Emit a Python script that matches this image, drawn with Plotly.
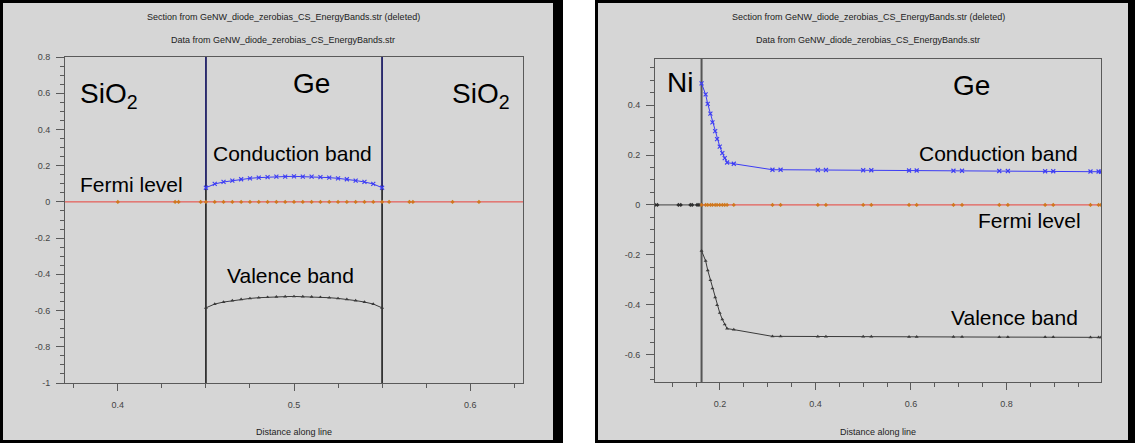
import plotly.graph_objects as go

# ---------------- data: left panel (SiO2 / Ge / SiO2 cross-section) ----------------
left_interfaces = [0.45, 0.55]
fermi_level = 0.0

ge_x = [0.450, 0.455, 0.460, 0.465, 0.470, 0.475, 0.480, 0.485, 0.490, 0.495, 0.500,
        0.505, 0.510, 0.515, 0.520, 0.525, 0.530, 0.535, 0.540, 0.545, 0.550]
ge_cb = [0.078, 0.099, 0.110, 0.118, 0.125, 0.130, 0.134, 0.137, 0.139, 0.140, 0.141,
         0.140, 0.139, 0.137, 0.134, 0.130, 0.125, 0.118, 0.110, 0.099, 0.078]
ge_vb = [-0.585, -0.564, -0.553, -0.545, -0.538, -0.533, -0.529, -0.526, -0.524, -0.523, -0.522,
         -0.523, -0.524, -0.526, -0.529, -0.533, -0.538, -0.545, -0.553, -0.564, -0.585]
# conduction band rises off-scale inside the oxide on both sides
oxide_cb = 1.2
left_fermi_x = [0.400, 0.4325, 0.4345, 0.447] + ge_x + [0.554, 0.5655, 0.5675, 0.590, 0.605]

left_x_ticks = [0.4, 0.5, 0.6]
left_x_labels = ["0.4", "0.5", "0.6"]
left_y_ticks = [0.8, 0.6, 0.4, 0.2, 0.0, -0.2, -0.4, -0.6, -0.8, -1.0]
left_y_labels = ["0.8", "0.6", "0.4", "0.2", "0", "-0.2", "-0.4", "-0.6", "-0.8", "-1"]

# ---------------- data: right panel (Ni / Ge contact) ----------------
right_interface = 0.1615
ni_x = [0.064, 0.069, 0.113, 0.118, 0.138, 0.142, 0.152, 0.156, 0.1615]
ni_e = [0.0] * len(ni_x)

ge2_x = [0.1615, 0.170, 0.1744, 0.180, 0.1843, 0.190, 0.194, 0.1996, 0.205, 0.210, 0.215,
         0.229, 0.310, 0.327, 0.405, 0.422, 0.500, 0.517, 0.596, 0.612, 0.689, 0.707,
         0.785, 0.803, 0.881, 0.898, 0.976, 0.993, 0.998]
ge2_cb = [0.487, 0.443, 0.405, 0.366, 0.331, 0.296, 0.264, 0.234, 0.208, 0.188, 0.170,
          0.165, 0.141, 0.141, 0.140, 0.140, 0.139, 0.139, 0.138, 0.138, 0.137, 0.137,
          0.136, 0.136, 0.135, 0.135, 0.134, 0.134, 0.133]
ge2_vb = [-0.184, -0.224, -0.262, -0.302, -0.335, -0.371, -0.402, -0.433, -0.459, -0.479, -0.496,
          -0.500, -0.527, -0.527, -0.528, -0.528, -0.528, -0.528, -0.529, -0.529, -0.529, -0.529,
          -0.530, -0.530, -0.530, -0.530, -0.531, -0.531, -0.531]
ge2_ef = [fermi_level] * len(ge2_x)

right_x_ticks = [0.2, 0.4, 0.6, 0.8]
right_x_labels = ["0.2", "0.4", "0.6", "0.8"]
right_y_ticks = [0.4, 0.2, 0.0, -0.2, -0.4, -0.6]
right_y_labels = ["0.4", "0.2", "0", "-0.2", "-0.4", "-0.6"]

# ---------------- styling ----------------
W, H = 1135, 443
FONT = "Arial, Liberation Sans, sans-serif"
CB_COLOR = "#3c3cf5"
CB_WALL = "#26268f"
VB_COLOR = "#3a3a3a"
EF_LINE = "#e8403a"
EF_MARK = "#d0781e"
PANEL_GREY = "#d6d6d6"
AXIS_GREY = "#5a5a5a"


def px_x(p):
    return p / W


def px_y(p):
    return 1 - p / H


fig = go.Figure()

# left panel traces
fig.add_trace(go.Scatter(
    x=left_fermi_x, y=[fermi_level] * len(left_fermi_x), mode="markers",
    marker=dict(symbol="diamond", size=3.2, color=EF_MARK),
    xaxis="x", yaxis="y", showlegend=False, hoverinfo="skip"))
for i in (0, -1):
    # vertical rise of the conduction band into the oxide
    fig.add_trace(go.Scatter(
        x=[ge_x[i], ge_x[i]], y=[ge_cb[i], oxide_cb], mode="lines",
        line=dict(color=CB_WALL, width=1.2), xaxis="x", yaxis="y", showlegend=False))
fig.add_trace(go.Scatter(
    x=ge_x, y=ge_cb, mode="lines+markers",
    line=dict(color=CB_COLOR, width=1),
    marker=dict(symbol="x-thin", size=4, line=dict(color=CB_COLOR, width=1.1)),
    xaxis="x", yaxis="y", showlegend=False))
fig.add_trace(go.Scatter(
    x=ge_x, y=ge_vb, mode="lines+markers",
    line=dict(color=VB_COLOR, width=1),
    marker=dict(symbol="triangle-up", size=3.5, color=VB_COLOR),
    xaxis="x", yaxis="y", showlegend=False))

# right panel traces
fig.add_trace(go.Scatter(
    x=ni_x, y=ni_e, mode="lines+markers",
    line=dict(color="#404040", width=1),
    marker=dict(symbol="diamond", size=3.2, color="#303030"),
    xaxis="x2", yaxis="y2", showlegend=False))
fig.add_trace(go.Scatter(
    x=ge2_x, y=ge2_ef, mode="lines+markers",
    line=dict(color=EF_LINE, width=1),
    marker=dict(symbol="diamond", size=3.2, color=EF_MARK),
    xaxis="x2", yaxis="y2", showlegend=False))
fig.add_trace(go.Scatter(
    x=ge2_x, y=ge2_cb, mode="lines+markers",
    line=dict(color=CB_COLOR, width=1),
    marker=dict(symbol="x-thin", size=4, line=dict(color=CB_COLOR, width=1.1)),
    xaxis="x2", yaxis="y2", showlegend=False))
fig.add_trace(go.Scatter(
    x=ge2_x, y=ge2_vb, mode="lines+markers",
    line=dict(color=VB_COLOR, width=1),
    marker=dict(symbol="triangle-up", size=3.5, color=VB_COLOR),
    xaxis="x2", yaxis="y2", showlegend=False))

shapes = [
    # window frames and grey panel backgrounds
    dict(type="rect", xref="paper", yref="paper", x0=0, x1=px_x(563), y0=0, y1=1,
         fillcolor="black", line=dict(width=0), layer="below"),
    dict(type="rect", xref="paper", yref="paper", x0=px_x(3), x1=px_x(553),
         y0=px_y(440), y1=px_y(3), fillcolor=PANEL_GREY, line=dict(width=0), layer="below"),
    dict(type="rect", xref="paper", yref="paper", x0=px_x(595), x1=1, y0=0, y1=1,
         fillcolor="black", line=dict(width=0), layer="below"),
    dict(type="rect", xref="paper", yref="paper", x0=px_x(598), x1=px_x(1128),
         y0=px_y(440), y1=px_y(3), fillcolor=PANEL_GREY, line=dict(width=0), layer="below"),
    # Fermi level across the whole left cross-section
    dict(type="line", xref="x domain", yref="y", x0=0, x1=1, y0=fermi_level, y1=fermi_level,
         line=dict(color=EF_LINE, width=1), layer="below"),
]
for xi in left_interfaces:
    shapes.append(dict(type="line", xref="x", yref="y domain", x0=xi, x1=xi, y0=0, y1=1,
                       line=dict(color="#111111", width=1.5), layer="below"))
shapes.append(dict(type="line", xref="x2", yref="y2 domain", x0=right_interface,
                   x1=right_interface, y0=0, y1=1,
                   line=dict(color="#555555", width=2), layer="below"))

tick_font = dict(family=FONT, size=9, color="#444444")


def xaxis_style(domain, rng, ticks, labels, minor_dtick, anchor):
    return dict(domain=domain, range=rng, anchor=anchor,
                tickmode="array", tickvals=ticks, ticktext=labels,
                ticks="outside", ticklen=7, tickcolor=AXIS_GREY, tickwidth=1,
                minor=dict(dtick=minor_dtick, tick0=0, ticks="outside", ticklen=4,
                           tickcolor=AXIS_GREY, tickwidth=1),
                showline=True, mirror=True, linecolor=AXIS_GREY, linewidth=1,
                showgrid=False, zeroline=False, tickfont=tick_font,
                ticklabelstandoff=6, automargin=False)


def yaxis_style(domain, rng, ticks, labels, anchor):
    return dict(domain=domain, range=rng, anchor=anchor,
                tickmode="array", tickvals=ticks, ticktext=labels,
                ticks="outside", ticklen=8, tickcolor=AXIS_GREY, tickwidth=1,
                minor=dict(dtick=0.05, tick0=0, ticks="outside", ticklen=4,
                           tickcolor=AXIS_GREY, tickwidth=1),
                showline=True, mirror=True, linecolor=AXIS_GREY, linewidth=1,
                showgrid=False, zeroline=False, tickfont=tick_font,
                ticklabelstandoff=4, automargin=False)


label_font = dict(family=FONT, size=21, color="black")
region_font = dict(family=FONT, size=28, color="black")
title_font = dict(family=FONT, size=9, color="#222222")

annotations = []
# window titles
for cx in (px_x(283), px_x(868)):
    annotations.append(dict(xref="paper", yref="paper", x=cx, y=px_y(17),
                            text="Section from GeNW_diode_zerobias_CS_EnergyBands.str (deleted)",
                            showarrow=False, font=title_font, xanchor="center", yanchor="middle"))
    annotations.append(dict(xref="paper", yref="paper", x=cx, y=px_y(40),
                            text="Data from GeNW_diode_zerobias_CS_EnergyBands.str",
                            showarrow=False, font=title_font, xanchor="center", yanchor="middle"))
for cx in (px_x(294), px_x(878)):
    annotations.append(dict(xref="paper", yref="paper", x=cx, y=px_y(432),
                            text="Distance along line", showarrow=False, font=title_font,
                            xanchor="center", yanchor="middle"))

# left panel labels
annotations += [
    dict(xref="x", yref="y", x=0.3776, y=0.59, text="SiO<sub>2</sub>", font=region_font,
         showarrow=False, xanchor="left", yanchor="middle"),
    dict(xref="x", yref="y", x=0.51, y=0.651, text="Ge", font=region_font,
         showarrow=False, xanchor="center", yanchor="middle"),
    dict(xref="x", yref="y", x=0.5886, y=0.59, text="SiO<sub>2</sub>", font=region_font,
         showarrow=False, xanchor="left", yanchor="middle"),
    dict(xref="x", yref="y", x=0.4531, y=0.268, text="Conduction band", font=label_font,
         showarrow=False, xanchor="left", yanchor="middle"),
    dict(xref="x", yref="y", x=0.3776, y=0.096, text="Fermi level", font=label_font,
         showarrow=False, xanchor="left", yanchor="middle"),
    dict(xref="x", yref="y", x=0.4608, y=-0.405, text="Valence band", font=label_font,
         showarrow=False, xanchor="left", yanchor="middle"),
]
# right panel labels
annotations += [
    dict(xref="x2", yref="y2", x=0.0856, y=0.489, text="Ni", font=region_font,
         showarrow=False, xanchor="left", yanchor="middle"),
    dict(xref="x2", yref="y2", x=0.684, y=0.48, text="Ge", font=region_font,
         showarrow=False, xanchor="left", yanchor="middle"),
    dict(xref="x2", yref="y2", x=0.9545, y=0.207, text="Conduction band", font=label_font,
         showarrow=False, xanchor="right", yanchor="middle"),
    dict(xref="x2", yref="y2", x=0.960, y=-0.0625, text="Fermi level", font=label_font,
         showarrow=False, xanchor="right", yanchor="middle"),
    dict(xref="x2", yref="y2", x=0.9545, y=-0.4515, text="Valence band", font=label_font,
         showarrow=False, xanchor="right", yanchor="middle"),
]

fig.update_layout(
    width=W, height=H,
    margin=dict(l=0, r=0, t=0, b=0),
    paper_bgcolor="white", plot_bgcolor="white",
    xaxis=xaxis_style([px_x(65), px_x(523)], [0.37, 0.63], left_x_ticks, left_x_labels, 0.025, "y"),
    yaxis=yaxis_style([px_y(383), px_y(57)], [-1.0, 0.8], left_y_ticks, left_y_labels, "x"),
    xaxis2=xaxis_style([px_x(655), px_x(1101)], [0.064, 0.998], right_x_ticks, right_x_labels, 0.05, "y2"),
    yaxis2=yaxis_style([px_y(382), px_y(59)], [-0.71, 0.585], right_y_ticks, right_y_labels, "x2"),
    shapes=shapes,
    annotations=annotations,
    showlegend=False,
)

fig.write_html("out.html")
